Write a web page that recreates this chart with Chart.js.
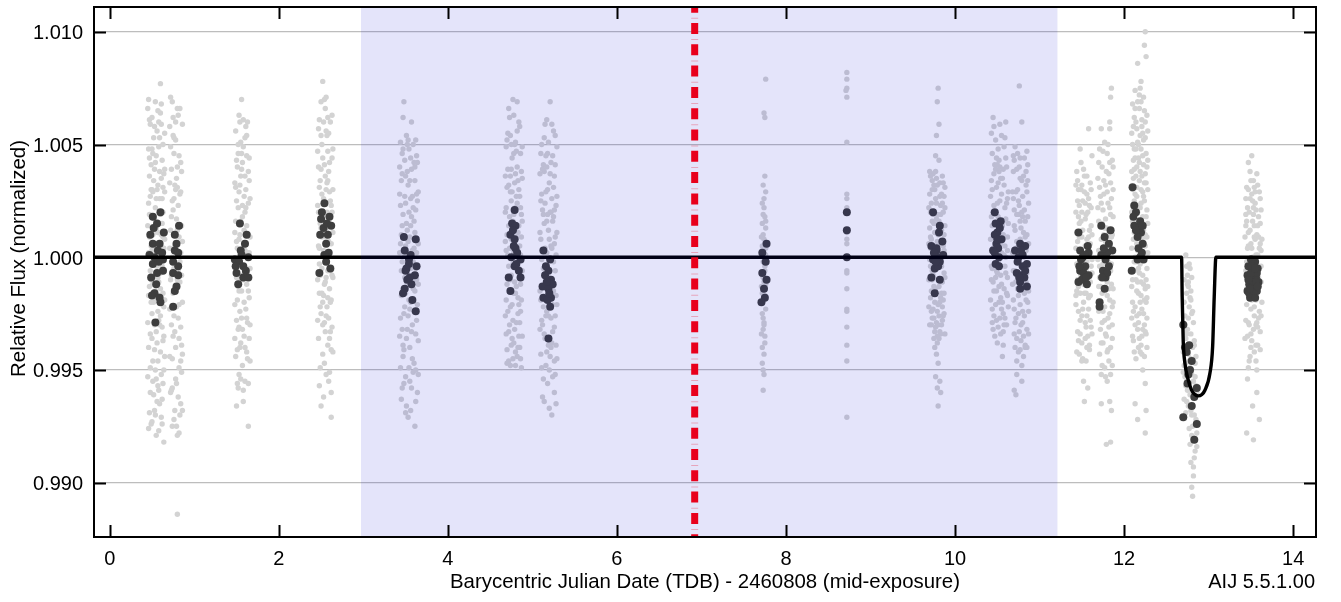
<!DOCTYPE html>
<html>
<head>
<meta charset="utf-8">
<title>Relative Flux light curve</title>
<script src="https://cdn.jsdelivr.net/npm/chart.js@4/dist/chart.umd.min.js"></script>
<style>
  html, body { margin: 0; padding: 0; background: #ffffff; }
  #wrap { width: 1341px; height: 602px; }
</style>
</head>
<body>
<div id="wrap"><canvas id="lc" width="1341" height="602"></canvas></div>
<script>
// Time is BJD_TDB - 2460808 (days); flux values are parts-per-thousand offsets from 1.
const xTicks = [0, 2, 4, 6, 8, 10, 12, 14];
const yTicks = [0.990, 0.995, 1.000, 1.005, 1.010];
const xRange = [-0.186, 14.27];
const yRange = [0.98759, 1.01110];

// Unbinned measurements, one array per observing block: [time, ppt]
const rawN1a = [[0.45,6.6],[0.45,-5.3],[0.46,2.4],[0.46,-1.7],[0.46,4.8],[0.47,-6.9],[0.47,0.9],[0.47,3.6],[0.48,-3.4],[0.48,5.9],[0.48,-0.6],[0.49,1.8],[0.49,-7.4],[0.49,4.1],[0.50,-2.5],[0.50,6.2],[0.50,0.3],[0.51,-4.6],[0.51,2.9],[0.51,-1.2],[0.52,5.3],[0.52,-6.1],[0.52,1.1],[0.53,-3.0],[0.53,3.9],[0.53,-0.2],[0.54,6.9],[0.54,-5.0],[0.54,2.2],[0.55,-1.9],[0.55,4.5],[0.55,-7.9],[0.56,0.6],[0.56,-3.8],[0.56,5.6],[0.57,-0.9],[0.57,3.2],[0.57,-5.7],[0.58,1.5],[0.58,-2.8],[0.58,4.9],[0.59,-6.5],[0.59,0.0],[0.59,2.6],[0.60,-4.2],[0.60,6.4],[0.60,-1.4],[0.61,3.5],[0.61,-7.1],[0.61,1.0],[0.62,-3.1],[0.62,4.3],[0.62,-0.4],[0.63,5.0],[0.63,-5.6],[0.63,2.0],[0.64,-2.2],[0.64,3.7],[0.64,-8.2],[0.65,0.8],[0.65,-4.4],[0.65,5.5],[0.46,7.0],[0.48,-4.9],[0.50,3.0],[0.52,-2.0],[0.54,0.4],[0.56,-6.4],[0.58,6.0],[0.60,-0.7],[0.62,2.6],[0.64,-3.5],[0.47,1.9],[0.49,-1.0],[0.51,4.6],[0.53,-4.1],[0.55,1.3],[0.57,-2.4],[0.59,3.8],[0.61,-5.2],[0.63,-1.6],[0.65,2.9],[0.60,7.7],
  [0.45,1.4],[0.45,-2.9],[0.46,-4.0],[0.46,0.2],[0.47,-1.3],[0.47,4.4],[0.48,2.7],[0.48,-6.0],[0.49,-2.0],[0.49,0.5],[0.50,-3.6],[0.50,4.8],[0.51,1.0],[0.51,-5.5],[0.52,3.4],[0.52,-0.9],[0.53,1.7],[0.53,-6.8],[0.54,-1.5],[0.54,4.2],[0.55,-3.3],[0.55,2.6],[0.56,-0.4],[0.56,3.0],[0.57,1.1],[0.57,-4.6],[0.58,-1.1],[0.58,-5.9],[0.59,5.3],[0.59,-3.0],[0.60,1.9],[0.60,-2.6],[0.61,-0.2],[0.61,5.9],[0.62,-6.3],[0.62,1.5],[0.63,3.1],[0.63,-3.7],[0.64,0.4],[0.64,-5.0],[0.65,-1.9],[0.65,3.9],[0.46,-7.6],[0.50,-7.3],[0.54,-7.0],[0.58,-7.7],[0.62,-7.4],[0.47,6.1],[0.53,5.8],[0.57,6.5],[0.61,6.8],[0.49,3.0],[0.55,-5.4],[0.59,-1.7],[0.63,0.9]];
const rawN1b = [[0.71,5.8],[0.71,-2.3],[0.72,1.2],[0.72,-6.0],[0.73,3.9],[0.73,-0.8],[0.74,6.9],[0.74,-4.5],[0.75,2.1],[0.75,-1.6],[0.76,4.6],[0.76,-7.2],[0.77,0.5],[0.77,-3.3],[0.78,5.2],[0.78,-5.4],[0.79,1.7],[0.79,-0.3],[0.80,3.1],[0.80,-7.9],[0.80,-11.4],[0.81,-2.7],[0.81,6.3],[0.82,0.9],[0.82,-4.9],[0.83,2.8],[0.83,-1.1],[0.84,4.2],[0.84,-6.5],[0.85,-3.9],[0.85,1.4],[0.86,5.9],[0.86,-2.0],[0.72,7.1],[0.74,-5.8],[0.76,2.6],[0.78,-1.3],[0.80,4.0],[0.82,-3.6],[0.84,0.2],[0.86,-4.3],[0.73,-3.0],[0.75,5.4],[0.77,-6.8],[0.79,3.5],[0.81,-0.6],[0.83,6.6],[0.85,-5.1],[0.71,0.4],[0.79,-7.5],
  [0.71,3.3],[0.71,-4.4],[0.72,-1.0],[0.72,4.9],[0.73,1.8],[0.73,-5.9],[0.74,0.0],[0.74,2.5],[0.75,-3.5],[0.75,6.2],[0.76,-0.5],[0.76,-2.6],[0.77,3.2],[0.77,1.0],[0.78,-4.0],[0.78,6.0],[0.79,-2.2],[0.79,-5.6],[0.80,1.2],[0.80,-1.0],[0.81,2.3],[0.81,-6.2],[0.82,4.5],[0.82,-2.1],[0.83,-0.2],[0.83,-7.0],[0.84,2.9],[0.84,-3.1],[0.85,3.8],[0.85,-0.8],[0.86,0.7],[0.86,-6.8],[0.74,-7.5],[0.78,3.0],[0.82,-7.8],[0.76,5.3],[0.80,6.6],[0.84,-4.6]];
const rawN2 = [[1.48,3.3],[1.48,-2.1],[1.49,5.6],[1.49,-4.4],[1.50,0.7],[1.50,-0.9],[1.51,4.0],[1.51,-5.6],[1.52,2.2],[1.52,-3.2],[1.53,6.3],[1.53,-1.5],[1.54,1.0],[1.54,-4.0],[1.55,3.6],[1.55,-0.1],[1.56,7.0],[1.56,-2.7],[1.57,1.8],[1.57,-4.8],[1.58,4.9],[1.58,-1.0],[1.59,2.7],[1.59,-3.5],[1.60,0.3],[1.60,5.3],[1.61,-2.3],[1.61,3.0],[1.62,-4.2],[1.62,1.4],[1.63,6.0],[1.63,-0.6],[1.64,-7.5],[1.64,2.4],[1.65,-1.8],[1.65,4.4],[1.66,-3.0],[1.66,0.9],[1.49,1.6],[1.51,-1.9],[1.53,2.9],[1.55,-3.8],[1.57,4.2],[1.59,-0.4],[1.61,5.8],[1.63,-2.9],[1.65,3.4],[1.50,-6.6],[1.52,4.6],[1.54,-2.4],[1.56,0.1],[1.58,-5.9],[1.60,2.0],[1.62,-1.2],[1.64,3.8],[1.66,-4.6],[1.55,5.1],[1.57,-0.8],[1.61,0.6],[1.53,-5.2],
  [1.48,-3.6],[1.48,1.1],[1.49,-0.7],[1.49,3.1],[1.50,-2.8],[1.50,2.5],[1.51,0.4],[1.51,-4.1],[1.52,-1.3],[1.52,5.0],[1.53,0.8],[1.53,-3.1],[1.54,3.2],[1.54,-1.0],[1.55,-5.4],[1.55,1.6],[1.56,-1.5],[1.56,3.9],[1.57,-3.2],[1.57,2.3],[1.58,0.4],[1.58,6.1],[1.59,-2.0],[1.59,1.2],[1.60,-4.0],[1.60,3.6],[1.61,-0.9],[1.61,2.2],[1.62,4.5],[1.62,-2.7],[1.63,0.2],[1.63,-4.5],[1.64,1.0],[1.64,-1.5],[1.65,0.2],[1.65,-3.6],[1.66,2.6],[1.66,-0.5],[1.52,-5.8],[1.58,-6.4],[1.54,6.0],[1.60,-5.5],[1.56,4.6],[1.62,5.4],[1.50,4.3],[1.64,-5.6]];
const rawN3 = [[2.46,4.7],[2.46,-1.0],[2.47,2.0],[2.47,-3.6],[2.48,6.1],[2.48,0.4],[2.49,-2.2],[2.49,3.4],[2.50,-6.6],[2.50,1.3],[2.51,5.0],[2.51,-0.5],[2.52,7.8],[2.52,-3.0],[2.53,2.6],[2.53,-1.7],[2.54,4.1],[2.54,-4.7],[2.55,0.9],[2.55,6.6],[2.56,-2.6],[2.56,3.0],[2.57,-0.1],[2.57,5.4],[2.58,-3.9],[2.58,1.8],[2.59,-5.5],[2.59,3.8],[2.60,0.2],[2.60,-1.4],[2.61,6.0],[2.61,-3.3],[2.62,2.3],[2.62,-7.1],[2.63,4.4],[2.63,-0.8],[2.64,1.1],[2.64,-4.2],[2.47,5.7],[2.49,-4.9],[2.51,2.8],[2.53,-6.2],[2.55,-1.1],[2.57,3.3],[2.59,0.7],[2.61,-2.0],[2.63,6.3],[2.48,-1.6],[2.50,3.9],[2.52,0.1],[2.54,-2.9],[2.56,5.6],[2.58,-0.6],[2.60,2.9],[2.62,-4.1],[2.64,4.8],[2.56,7.1],[2.60,-5.1],[2.52,1.6],[2.58,4.7],
  [2.46,2.3],[2.46,-2.8],[2.47,0.5],[2.47,4.0],[2.48,-0.3],[2.48,3.1],[2.49,1.5],[2.49,-0.8],[2.50,-2.5],[2.50,5.4],[2.51,-1.6],[2.51,0.9],[2.52,4.4],[2.52,-4.3],[2.53,0.3],[2.53,6.0],[2.54,1.9],[2.54,-1.2],[2.55,3.6],[2.55,-3.3],[2.56,1.2],[2.56,-0.9],[2.57,-2.2],[2.57,2.0],[2.58,3.4],[2.58,-1.8],[2.59,5.5],[2.59,-2.7],[2.60,1.5],[2.60,4.2],[2.61,-0.6],[2.61,2.5],[2.62,0.6],[2.62,-1.9],[2.63,2.0],[2.63,-3.1],[2.64,-0.9],[2.64,3.0],[2.48,-5.7],[2.56,-5.2],[2.62,-6.0],[2.50,6.9],[2.54,7.0],[2.58,6.2],[2.52,-2.0],[2.60,-3.6]];
const rawN4 = [[3.43,2.8],[3.43,-3.5],[3.44,0.6],[3.44,5.1],[3.45,-1.7],[3.45,-6.3],[3.46,3.7],[3.46,-0.2],[3.47,-4.4],[3.47,1.9],[3.48,6.9],[3.48,-2.5],[3.49,4.3],[3.49,0.1],[3.50,-5.3],[3.50,2.4],[3.51,-1.1],[3.51,5.4],[3.52,-3.2],[3.52,1.2],[3.53,-7.1],[3.53,3.2],[3.54,-0.8],[3.54,4.8],[3.55,-4.0],[3.55,0.9],[3.56,2.6],[3.56,-2.0],[3.57,-5.8],[3.57,3.9],[3.58,0.3],[3.58,-3.0],[3.59,5.0],[3.59,-1.4],[3.60,1.6],[3.60,-4.7],[3.61,3.4],[3.61,-7.5],[3.62,-0.5],[3.62,2.1],[3.63,-2.8],[3.63,4.5],[3.64,-6.0],[3.64,0.7],[3.65,-3.7],[3.65,2.9],[3.44,-2.7],[3.46,4.6],[3.48,-5.6],[3.50,0.5],[3.52,3.8],[3.54,-4.9],[3.56,1.4],[3.58,-1.9],[3.60,4.2],[3.62,-3.4],[3.64,2.5],[3.45,1.0],[3.47,-3.9],[3.49,2.7],[3.51,-6.6],[3.53,5.2],[3.55,-2.3],[3.57,0.0],[3.59,-5.1],[3.61,4.0],[3.63,-1.0],[3.65,-5.2],
  [3.43,0.2],[3.43,4.0],[3.44,-4.9],[3.44,2.3],[3.45,3.4],[3.45,-0.6],[3.46,1.4],[3.46,-3.2],[3.47,4.8],[3.47,-1.4],[3.48,0.9],[3.48,-4.1],[3.49,-0.9],[3.49,-2.2],[3.50,3.6],[3.50,-1.6],[3.51,1.5],[3.51,-3.6],[3.52,-0.3],[3.52,5.0],[3.53,-2.6],[3.53,0.7],[3.54,2.0],[3.54,-1.9],[3.55,3.4],[3.55,-5.5],[3.56,-0.5],[3.56,4.4],[3.57,1.8],[3.57,-3.3],[3.58,2.7],[3.58,-4.5],[3.59,-0.2],[3.59,2.2],[3.60,-2.4],[3.60,0.4],[3.61,1.1],[3.61,-1.5],[3.62,5.2],[3.62,-5.0],[3.63,0.2],[3.63,2.8],[3.64,-2.1],[3.64,4.2],[3.65,0.6],[3.65,-1.2],[3.47,6.2],[3.57,6.0],[3.50,-6.9],[3.56,-6.8],[3.62,-6.4],[3.46,-5.8]];
const rawN5a = [[4.68,2.0],[4.68,-2.6],[4.69,4.9],[4.69,0.3],[4.70,-4.1],[4.70,3.1],[4.71,-0.9],[4.71,5.5],[4.72,1.4],[4.72,-3.3],[4.73,6.2],[4.73,-1.5],[4.74,3.6],[4.74,-4.8],[4.75,0.8],[4.75,2.5],[4.76,-2.1],[4.76,4.4],[4.77,-0.3],[4.77,7.0],[4.78,1.9],[4.78,-3.8],[4.79,3.3],[4.79,-1.1],[4.80,5.1],[4.80,0.0],[4.81,-2.9],[4.81,2.7],[4.82,-4.4],[4.82,4.0],[4.83,1.1],[4.83,-1.8],[4.84,3.0],[4.84,-3.5],[4.85,5.8],[4.85,0.5],[4.86,-2.4],[4.86,2.2],[4.87,-4.9],[4.87,3.8],[4.88,-0.6],[4.88,1.6],[4.69,-1.9],[4.71,3.9],[4.73,-3.0],[4.75,5.0],[4.77,-4.5],[4.79,0.6],[4.81,4.7],[4.83,-2.5],[4.85,-4.0],[4.87,0.9],[4.70,1.0],[4.72,-0.4],[4.74,2.9],[4.76,-3.6],[4.78,4.6],[4.80,-1.6],[4.82,2.4],[4.84,6.0],[4.86,-1.2],[4.88,3.5],[4.76,1.3],[4.80,3.7],[4.74,-1.0],
  [4.68,0.7],[4.68,3.6],[4.69,-3.4],[4.69,2.2],[4.70,-1.2],[4.70,5.2],[4.71,0.1],[4.71,-2.4],[4.72,3.2],[4.72,-4.6],[4.73,1.8],[4.73,0.4],[4.74,-2.2],[4.74,5.4],[4.75,-0.8],[4.75,-3.9],[4.76,2.9],[4.76,0.4],[4.77,1.6],[4.77,-2.8],[4.78,0.2],[4.78,-1.6],[4.79,5.0],[4.79,-3.2],[4.80,2.2],[4.80,-4.2],[4.81,0.9],[4.81,-1.3],[4.82,-0.3],[4.82,5.6],[4.83,3.4],[4.83,-4.0],[4.84,1.4],[4.84,-0.5],[4.85,2.7],[4.85,-2.9],[4.86,4.6],[4.86,0.1],[4.87,-1.9],[4.87,1.9],[4.88,-3.5],[4.88,4.9],[4.72,6.6],[4.78,6.3],[4.82,6.9],[4.70,-4.7],[4.80,-4.8],[4.86,-4.5],[4.75,3.9],[4.84,-2.1]];
const rawN5b = [[5.09,3.7],[5.09,-1.5],[5.10,0.8],[5.10,-4.3],[5.11,5.0],[5.11,-2.8],[5.12,2.1],[5.12,-6.2],[5.13,-0.5],[5.13,4.1],[5.14,-3.4],[5.14,1.5],[5.15,5.9],[5.15,-1.9],[5.16,2.9],[5.16,-4.8],[5.17,0.2],[5.17,-2.4],[5.18,4.6],[5.18,-5.6],[5.19,1.2],[5.19,-0.9],[5.20,3.3],[5.20,-3.7],[5.21,6.9],[5.21,-1.2],[5.22,0.5],[5.22,-4.0],[5.23,2.6],[5.23,-7.0],[5.24,4.5],[5.24,-2.1],[5.25,-0.2],[5.25,1.8],[5.26,-3.1],[5.26,3.6],[5.27,-5.2],[5.27,0.9],[5.28,2.3],[5.28,-1.7],[5.29,-4.5],[5.29,4.9],[5.10,2.5],[5.12,-3.0],[5.14,3.8],[5.16,-0.7],[5.18,1.9],[5.20,-5.0],[5.22,4.2],[5.24,-3.3],[5.26,0.6],[5.28,-6.5],[5.11,-0.1],[5.13,-5.4],[5.15,2.4],[5.17,4.0],[5.19,-3.9],[5.21,2.0],[5.23,-1.4],[5.25,5.6],[5.27,-2.6],[5.29,1.1],
  [5.09,1.1],[5.09,-3.2],[5.10,-1.9],[5.10,4.6],[5.11,2.8],[5.11,-4.9],[5.12,0.3],[5.12,3.9],[5.13,1.9],[5.13,-2.2],[5.14,-0.8],[5.14,5.3],[5.15,0.4],[5.15,-3.6],[5.16,4.5],[5.16,-2.6],[5.17,1.6],[5.17,-4.2],[5.18,-1.0],[5.18,3.0],[5.19,-2.6],[5.19,5.1],[5.20,0.8],[5.20,-1.7],[5.21,3.7],[5.21,-4.4],[5.22,-2.7],[5.22,2.0],[5.23,0.4],[5.23,-3.8],[5.24,1.6],[5.24,-5.3],[5.25,3.1],[5.25,-1.5],[5.26,-4.6],[5.26,2.1],[5.27,4.1],[5.27,-0.6],[5.28,0.1],[5.28,-3.9],[5.29,2.7],[5.29,-2.1],[5.14,-6.4],[5.20,-6.7],[5.26,-6.0],[5.17,6.1],[5.23,5.9],[5.27,5.4]];
const rawN7 = [[7.76,7.9],[7.74,6.4],[7.75,6.2],[7.75,3.6],[7.73,3.2],[7.76,2.9],[7.74,2.6],[7.72,2.4],[7.73,1.9],[7.75,1.8],[7.72,1.5],[7.76,1.3],[7.73,1.0],[7.74,0.8],[7.72,0.5],[7.76,0.1],[7.73,-0.2],[7.75,-0.4],[7.72,-0.8],[7.74,-1.1],[7.71,-1.3],[7.75,-1.7],[7.73,-1.9],[7.76,-2.3],[7.72,-2.5],[7.74,-2.9],[7.73,-3.2],[7.71,-3.4],[7.75,-3.8],[7.72,-4.0],[7.74,-4.3],[7.72,-4.7],[7.73,-5.0],[7.74,-5.2],[7.73,-5.9],[7.76,1.6],[7.71,0.9],[7.76,-1.2],[7.71,-2.0],[7.75,-3.5],[7.74,2.2],[7.72,0.3],[7.75,-0.6],[7.73,-2.7],[7.73,-0.9],[7.75,0.6],[7.72,-1.6],[7.74,-3.0],[7.76,0.4]];
const rawN8 = [[8.72,8.2],[8.72,7.9],[8.72,7.5],[8.71,7.4],[8.72,7.1],[8.72,5.1],[8.72,2.8],[8.72,2.6],[8.72,2.2],[8.72,1.1],[8.72,0.8],[8.72,0.6],[8.72,-0.6],[8.72,-0.7],[8.72,-1.4],[8.72,-2.3],[8.72,-2.4],[8.72,-3.1],[8.72,-3.9],[8.72,-4.6],[8.72,-7.1]];
const rawN9 = [[9.80,7.5],[9.79,6.9],[9.81,5.9],[9.78,5.4],[9.77,4.5],[9.81,4.3],[9.70,3.8],[9.72,2.4],[9.74,-0.8],[9.76,1.1],[9.78,-2.9],[9.80,0.3],[9.82,3.3],[9.84,-1.6],[9.86,2.0],[9.88,-3.4],[9.69,-2.2],[9.71,0.9],[9.73,3.0],[9.75,-1.3],[9.77,2.6],[9.79,-3.5],[9.81,1.6],[9.83,-0.4],[9.85,3.6],[9.87,-2.5],[9.70,-0.1],[9.72,-3.0],[9.74,1.9],[9.76,-2.0],[9.78,3.5],[9.80,-1.0],[9.82,-3.3],[9.84,2.8],[9.86,0.5],[9.88,1.4],[9.69,2.2],[9.71,-1.8],[9.73,-0.6],[9.75,3.2],[9.77,-3.1],[9.79,0.7],[9.81,-2.6],[9.83,1.9],[9.85,-1.1],[9.87,2.7],[9.70,1.3],[9.72,-2.4],[9.74,3.7],[9.76,-0.2],[9.78,1.7],[9.80,-2.1],[9.82,0.0],[9.84,-3.0],[9.86,-1.9],[9.88,3.1],[9.79,-3.8],[9.78,-4.3],[9.80,-4.7],[9.77,-5.3],[9.82,-5.5],[9.79,-5.8],[9.83,-6.0],[9.80,-6.6],[9.71,0.4],[9.75,-3.6],[9.83,2.3],[9.87,-0.7],[9.73,1.6],[9.85,-2.8],
  [9.69,0.6],[9.69,-1.0],[9.70,2.8],[9.70,-3.0],[9.71,-0.4],[9.71,2.0],[9.72,0.8],[9.72,-1.5],[9.73,3.4],[9.73,-2.7],[9.74,0.2],[9.74,-2.3],[9.75,1.5],[9.75,-0.6],[9.76,3.0],[9.76,-3.3],[9.77,0.5],[9.77,-1.4],[9.78,2.4],[9.78,-0.3],[9.79,-2.4],[9.79,3.2],[9.80,1.0],[9.80,-3.0],[9.81,0.2],[9.81,-1.3],[9.82,2.7],[9.82,-2.0],[9.83,0.6],[9.83,-3.4],[9.84,1.2],[9.84,-0.4],[9.85,2.4],[9.85,0.0],[9.86,-2.6],[9.86,3.3],[9.87,1.0],[9.87,-1.6],[9.88,-0.9],[9.88,2.2],[9.71,3.6],[9.75,-2.7],[9.79,1.9],[9.83,-1.8],[9.87,0.3],[9.73,-1.0],[9.77,3.8],[9.81,-3.6],[9.85,-2.2],[9.76,-4.0]];
const rawN10a = [[10.45,6.2],[10.60,6.0],[10.43,5.5],[10.55,5.4],[10.48,5.2],[10.58,4.9],[10.44,4.6],[10.52,4.3],[10.61,4.0],[10.46,3.7],[10.56,3.5],[10.49,3.1],[10.63,2.9],[10.42,2.7],[10.53,2.5],[10.59,2.2],[10.47,1.9],[10.57,1.6],[10.44,1.4],[10.50,1.1],[10.62,0.9],[10.54,0.6],[10.45,0.4],[10.58,0.1],[10.51,-0.2],[10.43,-0.4],[10.60,-0.7],[10.48,-0.9],[10.55,-1.2],[10.46,-1.5],[10.62,-1.7],[10.52,-2.0],[10.44,-2.3],[10.57,-2.5],[10.49,-2.8],[10.61,-3.0],[10.45,-3.2],[10.54,-3.4],[10.50,-3.8],[10.56,-4.4],[10.59,5.3],[10.47,4.1],[10.51,3.3],[10.60,1.7],[10.43,-1.0],[10.53,-2.7],[10.58,-1.4],[10.42,0.8],[10.63,-2.2],[10.46,2.3],[10.55,0.2],[10.49,-0.6],[10.52,3.8],[10.57,-3.3],[10.44,-2.9],[10.62,2.6],[10.48,1.5],[10.54,-1.8],[10.59,0.5],[10.51,4.8],
  [10.42,-1.9],[10.43,3.4],[10.44,-0.5],[10.45,2.0],[10.46,-2.6],[10.47,0.6],[10.48,3.9],[10.49,-1.5],[10.50,2.4],[10.51,-3.1],[10.52,1.2],[10.53,4.0],[10.54,-0.8],[10.55,2.8],[10.56,-2.0],[10.57,1.0],[10.58,3.2],[10.59,-2.7],[10.60,0.0],[10.61,2.4],[10.62,-0.9],[10.63,1.5],[10.43,1.8],[10.45,-1.1],[10.47,-3.5],[10.49,4.4],[10.51,1.8],[10.53,0.2],[10.55,-2.3],[10.57,3.9],[10.59,-0.4],[10.61,-1.6],[10.44,3.0],[10.46,0.9],[10.48,-2.1],[10.50,-0.7],[10.52,-1.3],[10.54,3.5],[10.56,1.4],[10.58,-3.0],[10.60,4.4],[10.62,0.3],[10.46,5.8],[10.53,5.9],[10.57,-3.9],[10.50,4.1]];
const rawN10b = [[10.76,7.6],[10.79,6.0],[10.71,4.9],[10.74,4.6],[10.82,4.4],[10.86,4.1],[10.69,3.8],[10.77,3.5],[10.84,3.2],[10.72,2.9],[10.80,2.7],[10.87,2.4],[10.70,2.1],[10.75,1.9],[10.83,1.6],[10.78,1.3],[10.85,1.0],[10.73,0.7],[10.81,0.5],[10.68,0.2],[10.76,-0.1],[10.86,-0.3],[10.71,-0.6],[10.79,-0.8],[10.84,-1.1],[10.74,-1.4],[10.82,-1.6],[10.69,-1.9],[10.77,-2.1],[10.87,-2.4],[10.72,-2.7],[10.80,-2.9],[10.85,-3.2],[10.70,-3.4],[10.78,-3.7],[10.83,-3.9],[10.75,-4.2],[10.81,-4.4],[10.73,-5.2],[10.79,-5.5],[10.72,-6.1],[10.70,-5.9],[10.85,4.7],[10.74,3.0],[10.80,1.8],[10.68,-1.2],[10.86,-2.0],[10.76,2.3],[10.82,-0.5],[10.71,1.2],[10.78,-3.0],[10.84,0.3],[10.73,-3.6],[10.87,-1.5],[10.69,2.6],[10.81,3.6],[10.75,-2.5],[10.83,-4.0],[10.77,0.8],[10.70,4.3],
  [10.68,2.9],[10.69,-0.6],[10.70,1.4],[10.71,-2.9],[10.72,0.4],[10.73,3.9],[10.74,-0.9],[10.75,2.5],[10.76,-3.3],[10.77,1.6],[10.78,-1.2],[10.79,3.4],[10.80,-2.4],[10.81,0.0],[10.82,2.1],[10.83,-1.4],[10.84,3.8],[10.85,-0.7],[10.86,1.8],[10.87,-3.4],[10.69,4.5],[10.71,-4.0],[10.73,1.9],[10.75,-1.7],[10.77,-4.1],[10.79,2.0],[10.81,-3.5],[10.83,0.9],[10.85,2.9],[10.87,0.6],[10.70,-2.3],[10.72,-1.1],[10.74,0.0],[10.76,4.0],[10.78,0.4],[10.80,-0.5],[10.82,-2.6],[10.84,-1.9],[10.86,3.4],[10.73,-4.6],[10.79,-4.8],[10.85,-4.0],[10.77,4.4],[10.81,1.1]];
const rawN11a = [[11.58,5.7],[11.48,4.8],[11.62,4.5],[11.49,4.2],[11.44,3.8],[11.53,3.6],[11.60,3.3],[11.46,3.0],[11.56,2.8],[11.51,2.5],[11.61,2.2],[11.43,2.0],[11.54,1.7],[11.47,1.5],[11.59,1.2],[11.50,0.9],[11.45,0.7],[11.57,0.4],[11.52,0.2],[11.62,-0.1],[11.44,-0.3],[11.55,-0.6],[11.49,-0.8],[11.60,-1.1],[11.46,-1.3],[11.53,-1.6],[11.58,-1.8],[11.43,-2.1],[11.51,-2.3],[11.56,-2.6],[11.48,-2.8],[11.61,-3.1],[11.45,-3.3],[11.54,-3.6],[11.50,-3.8],[11.59,-4.1],[11.47,-4.3],[11.55,-4.6],[11.52,-5.5],[11.57,-5.8],[11.53,-6.4],[11.44,1.1],[11.60,0.6],[11.50,3.2],[11.56,-0.2],[11.46,-2.4],[11.58,2.6],[11.52,-1.2],[11.62,-3.4],[11.48,0.3],[11.55,1.9],[11.43,-1.7],[11.59,-3.9],[11.51,-4.5],[11.47,2.3],[11.61,1.4],[11.54,-2.9],[11.45,3.4],[11.57,-1.0],
  [11.43,0.4],[11.44,-1.5],[11.45,2.5],[11.46,-3.7],[11.47,0.9],[11.48,-1.6],[11.49,3.0],[11.50,-2.6],[11.51,1.2],[11.52,3.9],[11.53,-0.4],[11.54,2.4],[11.55,-3.1],[11.56,0.8],[11.57,2.0],[11.58,-2.3],[11.59,0.0],[11.60,-1.7],[11.61,3.0],[11.62,1.0],[11.44,-4.2],[11.46,1.8],[11.48,-3.4],[11.50,2.0],[11.52,-2.0],[11.54,0.5],[11.56,-4.0],[11.58,0.9],[11.60,-2.8],[11.62,-0.7],[11.45,-1.0],[11.47,-0.3],[11.49,1.6],[11.51,-1.0],[11.53,2.9],[11.55,-1.6],[11.57,-3.5],[11.59,2.3],[11.61,-0.4],[11.43,3.2],[11.50,-4.6],[11.56,3.6]];
const rawN11b = [[11.85,7.5],[11.84,7.1],[11.83,6.0],[11.73,5.7],[11.83,5.7],[11.77,5.1],[11.71,4.8],[11.80,4.6],[11.86,4.3],[11.74,4.0],[11.82,3.7],[11.69,3.5],[11.78,3.2],[11.87,3.0],[11.72,2.7],[11.81,2.4],[11.75,2.1],[11.84,1.9],[11.70,1.6],[11.79,1.3],[11.86,1.0],[11.73,0.8],[11.82,0.5],[11.76,0.2],[11.69,-0.1],[11.85,-0.3],[11.78,-0.6],[11.71,-0.9],[11.80,-1.1],[11.87,-1.4],[11.74,-1.6],[11.83,-1.9],[11.77,-2.2],[11.70,-2.4],[11.81,-2.7],[11.86,-3.0],[11.72,-3.2],[11.79,-3.5],[11.75,-3.8],[11.84,-4.0],[11.71,-4.3],[11.82,-4.6],[11.77,-4.9],[11.73,-5.2],[11.80,-5.5],[11.73,-6.5],[11.83,-6.4],[11.85,-6.8],[11.79,-8.3],[11.84,-8.2],[11.76,3.4],[11.85,2.6],[11.70,0.3],[11.81,-0.2],[11.74,-2.9],[11.87,-2.0],[11.78,1.7],[11.83,4.2],[11.72,-1.3],[11.80,-4.2],[11.76,-0.9],[11.86,-4.8],
  [11.69,2.2],[11.70,-1.3],[11.71,3.1],[11.72,0.1],[11.73,-3.8],[11.74,1.5],[11.75,-0.3],[11.76,2.8],[11.77,-2.8],[11.78,0.7],[11.79,3.8],[11.80,-1.7],[11.81,1.0],[11.82,-3.1],[11.83,2.2],[11.84,-0.6],[11.85,0.9],[11.86,-2.2],[11.87,1.8],[11.70,4.2],[11.72,-2.0],[11.74,-4.8],[11.76,1.0],[11.78,-3.4],[11.80,2.9],[11.82,-1.4],[11.84,3.3],[11.86,-3.6],[11.71,-0.4],[11.73,2.4],[11.75,-2.4],[11.77,1.3],[11.79,-0.2],[11.81,-4.1],[11.83,-2.5],[11.85,-1.2],[11.87,4.0],[11.75,4.7],[11.81,5.0],[11.78,-5.3],[11.84,-5.2]];
const rawN12a = [[12.25,10.0],[12.24,9.4],[12.26,8.9],[12.16,8.6],[12.20,7.8],[12.13,7.4],[12.23,7.1],[12.10,6.8],[12.18,6.6],[12.27,6.3],[12.14,6.0],[12.21,5.8],[12.09,5.5],[12.25,5.3],[12.17,5.0],[12.12,4.8],[12.22,4.5],[12.28,4.3],[12.15,4.0],[12.19,3.8],[12.11,3.5],[12.26,3.3],[12.20,3.0],[12.13,2.8],[12.24,2.5],[12.17,2.3],[12.09,2.0],[12.22,1.8],[12.28,1.5],[12.14,1.3],[12.19,1.0],[12.11,0.8],[12.25,0.5],[12.16,0.3],[12.21,0.0],[12.12,-0.2],[12.27,-0.5],[12.18,-0.7],[12.10,-1.0],[12.23,-1.2],[12.15,-1.5],[12.20,-1.7],[12.26,-2.0],[12.13,-2.2],[12.18,-2.5],[12.09,-2.7],[12.24,-3.0],[12.16,-3.2],[12.21,-3.5],[12.11,-3.7],[12.27,-4.0],[12.19,-4.2],[12.14,-4.5],[12.22,-5.0],[12.25,-5.6],[12.13,-6.5],[12.26,-6.8],[12.16,-7.2],[12.25,-7.8],[12.12,6.2],[12.19,5.4],[12.23,4.1],[12.10,3.0],[12.27,2.1],[12.15,1.6],[12.21,0.7],[12.12,-0.6],[12.25,-1.4],[12.17,-2.9],[12.20,-3.9],[12.14,3.6],[12.24,6.5],[12.18,7.2],[12.26,-3.4],[12.10,-2.0],[12.22,2.9],[12.16,-1.1],[12.28,0.2],[12.13,1.9],[12.19,-0.3],[12.11,4.3],[12.21,-2.3],[12.15,5.7],[12.27,-1.8],[12.09,-1.3],[12.23,1.2],[12.17,-4.0],[12.20,4.8],[12.12,2.5],[12.25,3.7],
  [12.09,0.4],[12.10,1.6],[12.11,-2.4],[12.12,3.9],[12.13,0.0],[12.14,-1.0],[12.15,2.7],[12.16,5.1],[12.17,-0.5],[12.18,3.4],[12.19,-2.0],[12.20,1.4],[12.21,6.1],[12.22,-0.8],[12.23,2.7],[12.24,-1.9],[12.25,1.0],[12.26,4.6],[12.27,-2.7],[12.28,3.0],[12.09,3.8],[12.11,5.8],[12.13,-3.0],[12.15,0.6],[12.17,4.4],[12.19,2.2],[12.21,-4.3],[12.23,5.2],[12.25,-3.3],[12.27,0.9],[12.10,-3.5],[12.12,1.1],[12.14,4.8],[12.16,2.0],[12.18,-3.6],[12.20,6.9],[12.22,0.2],[12.24,3.3],[12.26,1.8],[12.28,-1.3],[12.11,2.1],[12.13,6.6],[12.15,-2.6],[12.17,1.1],[12.19,7.5],[12.21,3.6],[12.23,-2.5],[12.25,6.0],[12.27,4.0],[12.12,-4.2],[12.14,-0.2],[12.16,6.9],[12.18,0.1],[12.20,-1.1],[12.22,5.5],[12.24,0.9],[12.26,-1.0],[12.28,5.6],[12.10,5.0],[12.18,4.2],[12.22,-3.2],[12.15,3.1],[12.20,2.4],[12.24,-4.4],[12.13,4.4],[12.17,-1.6]];
const rawN12b = [[12.73,0.1],[12.75,-1.2],[12.78,-0.5],[12.71,-2.0],[12.80,-0.9],[12.74,-1.6],[12.72,-2.6],[12.77,-0.3],[12.79,-1.9],[12.70,-3.1],[12.76,-1.3],[12.81,-2.4],[12.73,-3.6],[12.75,-0.8],[12.82,-2.9],[12.70,-4.2],[12.78,-1.8],[12.74,-3.4],[12.71,-4.8],[12.80,-2.5],[12.77,-3.9],[12.84,-5.3],[12.72,-3.0],[12.79,-4.5],[12.75,-5.9],[12.83,-3.7],[12.70,-5.1],[12.81,-6.6],[12.76,-4.3],[12.73,-5.7],[12.85,-7.2],[12.78,-4.9],[12.71,-6.3],[12.82,-8.0],[12.74,-5.5],[12.80,-7.0],[12.84,-8.6],[12.79,-9.1],[12.82,-9.7],[12.80,-10.2],[12.81,-10.6],[12.86,-8.4],[12.77,-7.6],[12.86,-6.0],[12.72,-3.3],[12.84,-6.2],[12.76,-1.1],[12.78,-5.0],[12.83,-3.9],[12.79,-1.5],[12.85,-4.4],[12.73,-6.9],[12.80,-7.9],[12.83,-8.9],
  [12.71,-1.0],[12.74,-0.4],[12.77,-2.2],[12.79,-3.4],[12.76,-2.7],[12.81,-4.0],[12.73,-4.7],[12.78,-6.1],[12.82,-5.5],[12.84,-4.7],[12.75,-3.2],[12.80,-5.2],[12.77,-4.6],[12.83,-7.0],[12.72,-5.3],[12.85,-5.7],[12.79,-6.8],[12.81,-7.5],[12.74,-6.4],[12.86,-7.8],[12.78,-8.3],[12.82,-9.3],[12.76,-6.6]];
const rawN13 = [[13.51,4.5],[13.47,4.2],[13.57,3.7],[13.53,3.4],[13.45,3.1],[13.60,2.9],[13.49,2.6],[13.55,2.4],[13.62,2.1],[13.44,1.9],[13.52,1.6],[13.58,1.4],[13.47,1.1],[13.54,0.9],[13.61,0.6],[13.46,0.4],[13.56,0.1],[13.50,-0.1],[13.59,-0.4],[13.44,-0.6],[13.53,-0.9],[13.62,-1.1],[13.48,-1.4],[13.57,-1.6],[13.51,-1.9],[13.45,-2.1],[13.60,-2.4],[13.54,-2.6],[13.47,-2.9],[13.58,-3.1],[13.50,-3.4],[13.43,-3.6],[13.56,-3.9],[13.61,-4.1],[13.49,-4.4],[13.47,-4.9],[13.57,-5.0],[13.46,-5.4],[13.57,-6.0],[13.52,-6.6],[13.60,-7.2],[13.45,-7.8],[13.53,-8.1],[13.55,2.9],[13.46,2.2],[13.59,0.9],[13.52,-0.5],[13.63,-2.0],[13.48,-3.0],[13.55,-1.3],[13.44,1.4],[13.58,3.2],[13.50,0.6],[13.61,-3.3],[13.53,1.9],[13.47,-1.7],[13.56,-4.6],[13.49,3.8],[13.62,0.3],[13.54,-2.2],[13.45,-0.2],[13.59,-2.7],[13.51,2.8],
  [13.43,0.9],[13.44,-2.8],[13.45,1.6],[13.46,-1.0],[13.47,3.0],[13.48,-0.2],[13.49,1.2],[13.50,-2.3],[13.51,0.4],[13.52,2.5],[13.53,-3.2],[13.54,1.4],[13.55,-0.6],[13.56,2.1],[13.57,-2.9],[13.58,0.1],[13.59,1.8],[13.60,-1.3],[13.61,2.6],[13.62,-2.6],[13.44,2.6],[13.46,-3.5],[13.48,2.0],[13.50,-4.0],[13.52,0.0],[13.54,3.1],[13.56,-1.9],[13.58,-3.9],[13.60,0.4],[13.62,-0.4],[13.45,-1.4],[13.47,0.5],[13.49,-0.8],[13.51,-3.7],[13.53,2.2],[13.55,0.8],[13.57,1.0],[13.59,-0.9],[13.61,1.5],[13.63,0.8],[13.50,3.4],[13.56,-3.0],[13.48,-4.6],[13.54,-4.2]];

// Binned measurements: [time, ppt]
const binN1a = [[0.51,1.8],[0.60,2.0],[0.64,1.1],[0.48,1.0],[0.51,0.6],[0.59,0.6],[0.47,0.1],[0.63,-0.1],[0.51,-0.3],[0.56,-0.7],[0.49,-0.9],[0.63,-0.6],[0.53,-1.6],[0.59,-1.8],[0.60,-2.0],[0.54,-2.9],[0.57,0.3],[0.55,-1.2],[0.52,1.3],[0.58,-0.2],[0.56,1.5],[0.50,-1.7],[0.62,0.2],[0.53,0.0]];
const binN1b = [[0.82,1.4],[0.77,1.0],[0.79,0.6],[0.77,0.3],[0.81,0.2],[0.75,-0.2],[0.81,-0.4],[0.75,-0.7],[0.81,-0.8],[0.79,-1.3],[0.77,-1.5],[0.75,-2.2]];
const binN2 = [[1.54,1.5],[1.62,1.0],[1.60,0.6],[1.55,0.3],[1.64,0.0],[1.48,-0.1],[1.53,-0.2],[1.58,-0.4],[1.50,-0.7],[1.58,-0.9],[1.64,-0.9],[1.52,-1.2],[1.56,0.1],[1.61,-0.6],[1.49,-0.4]];
const binN3 = [[2.54,2.4],[2.51,2.0],[2.60,1.8],[2.50,1.7],[2.62,1.4],[2.53,1.3],[2.49,1.0],[2.58,1.0],[2.56,0.6],[2.59,0.2],[2.54,0.1],[2.56,-0.2],[2.48,-0.7],[2.61,-0.5],[2.57,1.5]];
const binN4 = [[3.48,0.9],[3.62,0.8],[3.49,0.3],[3.54,-0.1],[3.63,-0.4],[3.50,-0.6],[3.61,-0.8],[3.57,-1.2],[3.49,-1.4],[3.47,-1.6],[3.58,-1.9],[3.62,-2.4],[3.54,-0.3],[3.56,0.1],[3.52,-1.0],[3.51,-0.5],[3.55,-0.9]];
const binN5a = [[4.79,2.1],[4.76,1.5],[4.80,1.4],[4.74,1.0],[4.79,0.8],[4.80,0.4],[4.86,-0.1],[4.75,0.0],[4.79,-0.4],[4.72,-0.9],[4.86,-0.9],[4.74,-1.5],[4.84,-0.6],[4.77,1.2],[4.82,0.2],[4.78,0.5],[4.81,-0.3]];
const binN5b = [[5.13,0.3],[5.21,-0.1],[5.16,-0.4],[5.19,-0.6],[5.22,-1.0],[5.12,-1.3],[5.19,-1.4],[5.13,-1.8],[5.22,-1.8],[5.18,-1.9],[5.21,-2.2],[5.19,-3.6],[5.15,-0.8],[5.24,-1.2],[5.17,-1.1],[5.20,-1.6]];
const binN7 = [[7.77,0.6],[7.72,0.2],[7.76,-0.2],[7.72,-0.7],[7.77,-1.0],[7.74,-1.4],[7.75,-1.8],[7.71,-2.0]];
const binN8 = [[8.72,2.0],[8.72,1.2],[8.72,0.0]];
const binN9 = [[9.74,2.0],[9.82,1.4],[9.81,1.1],[9.85,0.7],[9.72,0.5],[9.78,0.3],[9.86,0.1],[9.74,-0.1],[9.82,-0.2],[9.76,-0.5],[9.72,-0.9],[9.82,-1.0],[9.76,-1.6],[9.79,0.0],[9.80,-0.4],[9.77,-0.2],[9.78,0.4],[9.75,0.2]];
const binN10a = [[10.47,2.0],[10.54,1.6],[10.48,1.5],[10.50,1.1],[10.47,1.0],[10.55,0.8],[10.51,0.4],[10.48,-0.3],[10.52,-0.4],[10.53,1.3],[10.49,0.6],[10.45,0.3],[10.50,0.8],[10.52,0.0],[10.47,0.2]];
const binN10b = [[10.77,0.6],[10.83,0.5],[10.71,0.3],[10.80,0.1],[10.74,-0.2],[10.85,-0.3],[10.73,-0.7],[10.79,-0.8],[10.77,-1.1],[10.85,-1.3],[10.77,-1.4],[10.82,-0.9],[10.75,0.0],[10.80,-0.4],[10.76,-0.9],[10.83,-0.6],[10.78,0.3]];
const binN11a = [[11.46,1.1],[11.48,0.3],[11.57,0.5],[11.58,0.2],[11.49,-0.1],[11.54,-0.4],[11.48,-0.6],[11.52,-0.7],[11.58,-0.8],[11.46,-1.1],[11.56,-1.2],[11.51,0.0],[11.50,-1.0],[11.55,-0.9],[11.47,-0.4],[11.53,0.1]];
const binN11b = [[11.73,1.4],[11.84,1.2],[11.77,0.9],[11.82,0.6],[11.86,0.3],[11.73,0.1],[11.78,-0.1],[11.82,-0.4],[11.75,-0.6],[11.78,-0.9],[11.77,-1.4],[11.71,-2.0],[11.71,-2.2],[11.80,0.2],[11.76,0.4],[11.80,-0.7],[11.74,-0.9]];
const binN12a = [[12.10,3.1],[12.12,2.3],[12.14,2.0],[12.19,1.6],[12.12,1.4],[12.20,1.1],[12.16,0.9],[12.22,0.6],[12.17,0.4],[12.23,-0.1],[12.16,-0.1],[12.09,-0.6],[12.18,1.3],[12.21,0.2],[12.14,1.2],[12.19,0.0],[12.11,1.8],[12.22,1.4]];
const binN12b = [[12.70,-3.0],[12.77,-3.9],[12.74,-4.2],[12.80,-4.6],[12.76,-5.2],[12.86,-5.8],[12.75,-5.6],[12.83,-6.2],[12.80,-6.6],[12.70,-7.1],[12.86,-7.4],[12.83,-8.1],[12.72,-4.0],[12.78,-5.0]];
const binN13 = [[13.50,-0.1],[13.55,-0.2],[13.47,-0.4],[13.58,-0.5],[13.52,-0.6],[13.46,-0.8],[13.56,-0.9],[13.50,-1.0],[13.59,-1.1],[13.48,-1.2],[13.54,-1.3],[13.46,-1.5],[13.57,-1.5],[13.51,-1.6],[13.49,-1.8],[13.55,-1.8],[13.53,-0.3],[13.52,-1.1],[13.57,-0.7],[13.48,-1.6],[13.51,-0.4],[13.56,-1.1],[13.47,-1.0],[13.53,-1.5],[13.50,-0.7],[13.55,-0.5],[13.49,-1.4],[13.58,-1.3]];

// Transit model
const modelTime = [-0.5, 12.680, 12.687, 12.699, 12.719, 12.759, 12.799, 12.840, 12.877, 12.916, 12.956, 13.015, 13.047, 13.066, 13.086, 14.6];
const modelPpt  = [0, 0, -1.76, -3.7, -4.7, -5.45, -5.9, -6.1, -6.15, -6.1, -5.9, -5.15, -3.98, -1.76, 0, 0];

// Highlighted time window and marker epoch
const windowSpan = [2.9725, 11.214];
const markerTime = 6.92;

const xTitle = 'Barycentric Julian Date (TDB) - 2460808 (mid-exposure)';
const yTitle = 'Relative Flux (normalized)';
const versionTag = 'AIJ 5.5.1.00';

const toPts = arr => arr.map(([t, ppt]) => ({ x: t, y: 1 + ppt / 1000 }));
const rawAll = [rawN1a, rawN1b, rawN2, rawN3, rawN4, rawN5a, rawN5b, rawN7, rawN8, rawN9, rawN10a, rawN10b, rawN11a, rawN11b, rawN12a, rawN12b, rawN13].flatMap(toPts);
const binAll = [binN1a, binN1b, binN2, binN3, binN4, binN5a, binN5b, binN7, binN8, binN9, binN10a, binN10b, binN11a, binN11b, binN12a, binN12b, binN13].flatMap(toPts);
const modelPts = modelTime.map((t, i) => ({ x: t, y: 1 + modelPpt[i] / 1000 }));

const FONT = '"Liberation Sans", Arial, Helvetica, sans-serif';

// Frame, inward ticks on all four sides, labels and titles
const framePlugin = {
  id: 'framePlugin',
  afterDraw(chart) {
    const { ctx, chartArea: a, scales: { x, y } } = chart;
    ctx.save();
    ctx.strokeStyle = '#000';
    ctx.lineWidth = 2;
    ctx.beginPath();
    xTicks.forEach(v => {
      const px = Math.round(x.getPixelForValue(v)) + 0.5;
      ctx.moveTo(px, a.bottom); ctx.lineTo(px, a.bottom - 12);
      ctx.moveTo(px, a.top); ctx.lineTo(px, a.top + 12);
    });
    yTicks.forEach(v => {
      const py = Math.round(y.getPixelForValue(v)) + 0.5;
      ctx.moveTo(a.left, py); ctx.lineTo(a.left + 12, py);
      ctx.moveTo(a.right, py); ctx.lineTo(a.right - 12, py);
    });
    ctx.stroke();
    ctx.strokeRect(a.left, a.top, a.right - a.left, a.bottom - a.top);

    ctx.fillStyle = '#000';
    ctx.font = '20px ' + FONT;
    ctx.textBaseline = 'alphabetic';
    ctx.textAlign = 'center';
    xTicks.forEach(v => ctx.fillText(String(v), x.getPixelForValue(v), a.bottom + 28));
    ctx.textAlign = 'right';
    yTicks.forEach(v => ctx.fillText(v.toFixed(3), a.left - 11, y.getPixelForValue(v) + 7.3));

    ctx.font = '20.4px ' + FONT;
    ctx.textAlign = 'center';
    ctx.fillText(xTitle, (a.left + a.right) / 2, 588);
    ctx.textAlign = 'right';
    ctx.font = '20px ' + FONT;
    ctx.fillText(versionTag, a.right - 1, 588);

    ctx.translate(25, 258.5);
    ctx.rotate(-Math.PI / 2);
    ctx.textAlign = 'center';
    ctx.font = '20.4px ' + FONT;
    ctx.fillText(yTitle, 0, 0);
    ctx.restore();
  }
};

new Chart(document.getElementById('lc'), {
  type: 'scatter',
  data: {
    datasets: [
      {
        label: 'marker',
        type: 'line',
        data: [{ x: markerTime, y: yRange[1] }, { x: markerTime, y: yRange[0] }],
        borderColor: '#e8001c',
        borderWidth: 7,
        borderDash: [11, 10.3],
        borderDashOffset: 5.3,
        borderCapStyle: 'butt',
        pointRadius: 0,
        fill: false,
        order: 0
      },
      {
        label: 'marker gaps',
        type: 'line',
        data: [{ x: markerTime, y: yRange[1] }, { x: markerTime, y: yRange[0] }],
        borderColor: 'rgba(232,0,28,0.28)',
        borderWidth: 7,
        borderDash: [1, 20.3],
        borderDashOffset: 10.5,
        borderCapStyle: 'butt',
        pointRadius: 0,
        fill: false,
        order: 1
      },
      {
        label: 'window',
        type: 'line',
        data: [{ x: windowSpan[0], y: yRange[1] }, { x: windowSpan[1], y: yRange[1] }],
        borderWidth: 0,
        borderColor: 'rgba(0,0,0,0)',
        backgroundColor: 'rgba(0,0,205,0.106)',
        pointRadius: 0,
        fill: 'start',
        order: 2
      },
      {
        label: 'model',
        type: 'line',
        data: modelPts,
        borderColor: '#000000',
        borderWidth: 3.4,
        pointRadius: 0,
        fill: false,
        cubicInterpolationMode: 'monotone',
        order: 3
      },
      {
        label: 'binned',
        data: binAll,
        backgroundColor: '#3e3e3e',
        borderWidth: 0,
        pointRadius: 4,
        order: 4
      },
      {
        label: 'unbinned',
        data: rawAll,
        backgroundColor: '#d3d3d3',
        borderWidth: 0,
        pointRadius: 2.7,
        order: 5
      }
    ]
  },
  options: {
    responsive: false,
    devicePixelRatio: 1,
    animation: false,
    events: [],
    layout: { padding: { top: 7, right: 25, bottom: 0, left: 0 } },
    plugins: { legend: { display: false }, tooltip: { enabled: false } },
    scales: {
      x: {
        type: 'linear',
        min: xRange[0],
        max: xRange[1],
        afterBuildTicks: s => { s.ticks = xTicks.map(v => ({ value: v })); },
        afterFit: s => { s.height = 65; },
        ticks: { display: false },
        grid: { display: false, drawTicks: false },
        border: { display: false }
      },
      y: {
        type: 'linear',
        min: yRange[0],
        max: yRange[1],
        afterBuildTicks: s => { s.ticks = yTicks.map(v => ({ value: v })); },
        afterFit: s => { s.width = 94; },
        ticks: { display: false },
        grid: { color: '#bdbdbd', lineWidth: 1.3, drawTicks: false },
        border: { display: false }
      }
    }
  },
  plugins: [framePlugin]
});
</script>
</body>
</html>
